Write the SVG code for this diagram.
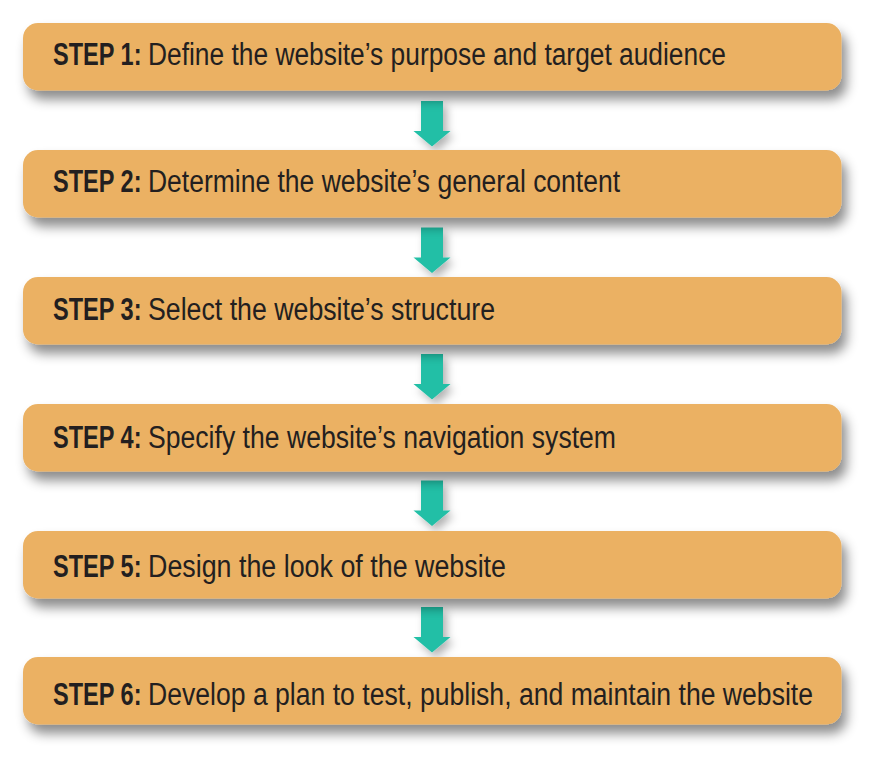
<svg xmlns="http://www.w3.org/2000/svg" width="884" height="768" viewBox="0 0 884 768">
  <style>
    .box { fill: #EBB163; filter: url(#sh); }
    .arrow { fill: #22BFA6; filter: url(#ash); }
    .lbl { font-family: "Liberation Sans", Arial, sans-serif; font-size: 31px; fill: #231F20; }
    .b { font-weight: bold; }
  </style>
  <defs>
    <filter id="sh" x="-10%" y="-30%" width="125%" height="180%">
      <feDropShadow dx="5" dy="9" stdDeviation="6" flood-color="#000" flood-opacity="0.45"/>
    </filter>
    <filter id="ash" x="-50%" y="-30%" width="220%" height="170%">
      <feDropShadow dx="4" dy="5" stdDeviation="4" flood-color="#000" flood-opacity="0.3"/>
    </filter>
  </defs>
  <rect width="884" height="768" fill="#ffffff"/>

  <g id="connectors">
    <path class="arrow" d="M421,101 H443 V131 H450.5 L432,146.5 L413.5,131 H421 Z"/>
    <path class="arrow" d="M421,227.5 H443 V257.5 H450.5 L432,273 L413.5,257.5 H421 Z"/>
    <path class="arrow" d="M421,354 H443 V384 H450.5 L432,399.5 L413.5,384 H421 Z"/>
    <path class="arrow" d="M421,480.5 H443 V510.5 H450.5 L432,526 L413.5,510.5 H421 Z"/>
    <path class="arrow" d="M421,607 H443 V637 H450.5 L432,652.5 L413.5,637 H421 Z"/>
  </g>

  <g id="step1">
    <rect class="box" x="23" y="23" width="818.5" height="67.5" rx="15"/>
    <text class="lbl" y="64.5"><tspan class="b" x="53" textLength="95" lengthAdjust="spacingAndGlyphs">STEP 1: </tspan><tspan x="148" textLength="578" lengthAdjust="spacingAndGlyphs">Define the website’s purpose and target audience</tspan></text>
  </g>
  <g id="step2">
    <rect class="box" x="23" y="150" width="818.5" height="67.5" rx="15"/>
    <text class="lbl" y="192"><tspan class="b" x="53" textLength="95" lengthAdjust="spacingAndGlyphs">STEP 2: </tspan><tspan x="148" textLength="472" lengthAdjust="spacingAndGlyphs">Determine the website’s general content</tspan></text>
  </g>
  <g id="step3">
    <rect class="box" x="23" y="277" width="818.5" height="67.5" rx="15"/>
    <text class="lbl" y="319.5"><tspan class="b" x="53" textLength="95" lengthAdjust="spacingAndGlyphs">STEP 3: </tspan><tspan x="148" textLength="347" lengthAdjust="spacingAndGlyphs">Select the website’s structure</tspan></text>
  </g>
  <g id="step4">
    <rect class="box" x="23" y="404" width="818.5" height="67.5" rx="15"/>
    <text class="lbl" y="447.5"><tspan class="b" x="53" textLength="95" lengthAdjust="spacingAndGlyphs">STEP 4: </tspan><tspan x="148" textLength="468" lengthAdjust="spacingAndGlyphs">Specify the website’s navigation system</tspan></text>
  </g>
  <g id="step5">
    <rect class="box" x="23" y="531" width="818.5" height="67.5" rx="15"/>
    <text class="lbl" y="577"><tspan class="b" x="53" textLength="95" lengthAdjust="spacingAndGlyphs">STEP 5: </tspan><tspan x="148" textLength="358" lengthAdjust="spacingAndGlyphs">Design the look of the website</tspan></text>
  </g>
  <g id="step6">
    <rect class="box" x="23" y="657" width="818.5" height="67.5" rx="15"/>
    <text class="lbl" y="704.5"><tspan class="b" x="53" textLength="95" lengthAdjust="spacingAndGlyphs">STEP 6: </tspan><tspan x="148" textLength="665" lengthAdjust="spacingAndGlyphs">Develop a plan to test, publish, and maintain the website</tspan></text>
  </g>
</svg>
